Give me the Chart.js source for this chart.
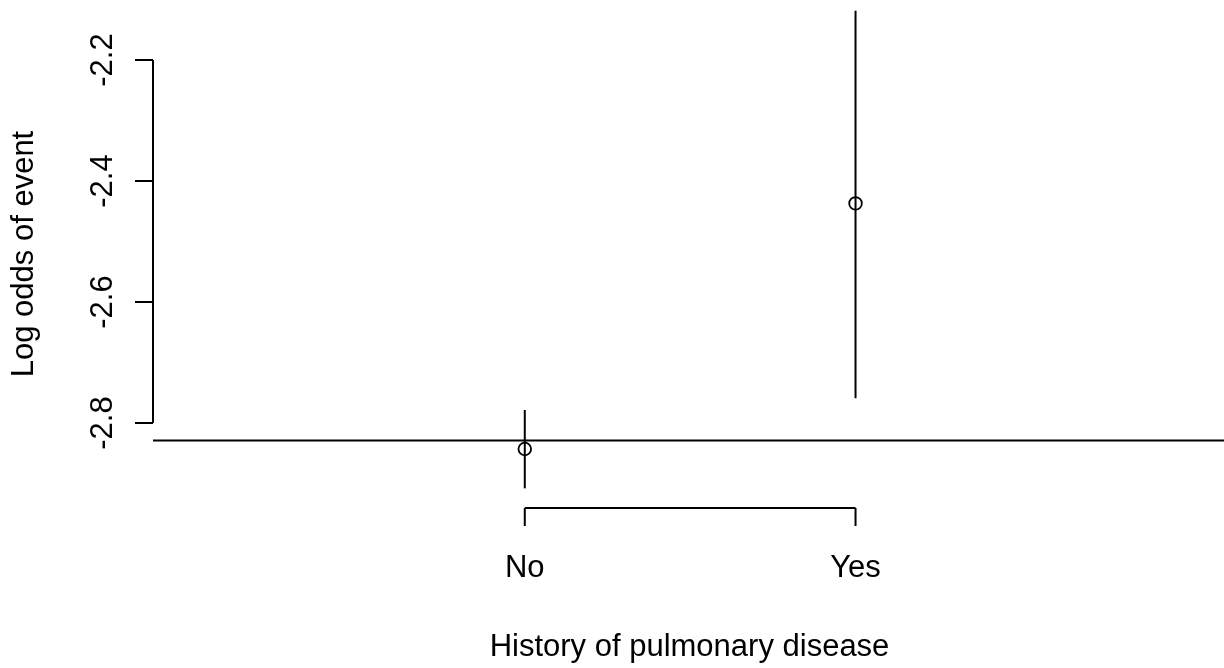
<!DOCTYPE html>
<html>
<head>
<meta charset="utf-8">
<title>Log odds of event by history of pulmonary disease</title>
<script src="https://cdn.jsdelivr.net/npm/chart.js@4.4.1/dist/chart.umd.min.js"></script>
<style>
    html, body { margin: 0; padding: 0; background: #ffffff; }
    canvas { display: block; }
</style>
</head>
<body>
<canvas id="chart" width="1224" height="668"></canvas>
<script>
(function () {
    'use strict';

    // values
    var categories = ['No', 'Yes'];
    var xPositions = [1, 2];
    var estimates = [-2.843, -2.437];
    var lowerBounds = [-2.908, -2.759];
    var upperBounds = [-2.7785, -2.1185];
    var referenceLevel = -2.829;
    var yTicks = [-2.8, -2.6, -2.4, -2.2];
    var yTickLabels = ['-2.8', '-2.6', '-2.4', '-2.2'];

    var X_MIN = -0.124;
    var X_MAX = 3.114;
    var Y_MIN = -2.9405;
    var Y_MAX = -2.1008;

    var FONT = '31px "Liberation Sans", Arial, sans-serif';
    var INK = '#000000';

    var datasets = [];

    // circles (pch = 1)
    datasets.push({
        type: 'scatter',
        label: 'estimate',
        order: 0,
        data: xPositions.map(function (x, i) { return { x: x, y: estimates[i] }; }),
        pointStyle: 'circle',
        pointRadius: 6.3,
        pointBorderWidth: 1.8,
        borderColor: INK,
        backgroundColor: 'rgba(0,0,0,0)',
        pointBackgroundColor: 'rgba(0,0,0,0)',
        pointBorderColor: INK
    });

    // vertical interval segments
    for (var i = 0; i < categories.length; i++) {
        datasets.push({
            type: 'line',
            label: categories[i] + ' interval',
            order: 1,
            data: [
                { x: xPositions[i], y: lowerBounds[i] },
                { x: xPositions[i], y: upperBounds[i] }
            ],
            borderColor: INK,
            borderWidth: 2,
            pointRadius: 0,
            fill: false,
            tension: 0
        });
    }

    // horizontal reference line across the plot region
    datasets.push({
        type: 'line',
        label: 'reference',
        order: 2,
        data: [{ x: X_MIN, y: referenceLevel }, { x: X_MAX, y: referenceLevel }],
        borderColor: INK,
        borderWidth: 2,
        pointRadius: 0,
        fill: false
    });

    // base-R style axes: line spans first to last tick only
    var rAxes = {
        id: 'rAxes',
        afterDraw: function (chart) {
            var ctx = chart.ctx;
            var area = chart.chartArea;
            var xs = chart.scales.x;
            var ys = chart.scales.y;
            var tickLen = 18;

            ctx.save();
            ctx.strokeStyle = INK;
            ctx.fillStyle = INK;
            ctx.lineWidth = 2;
            ctx.font = FONT;

            // y axis
            var ax = area.left;
            var yTop = ys.getPixelForValue(yTicks[yTicks.length - 1]);
            var yBot = ys.getPixelForValue(yTicks[0]);
            ctx.beginPath();
            ctx.moveTo(ax, yTop);
            ctx.lineTo(ax, yBot);
            for (var j = 0; j < yTicks.length; j++) {
                var py = ys.getPixelForValue(yTicks[j]);
                ctx.moveTo(ax, py);
                ctx.lineTo(ax - tickLen, py);
            }
            ctx.stroke();
            ctx.textAlign = 'center';
            ctx.textBaseline = 'alphabetic';
            for (var k = 0; k < yTicks.length; k++) {
                ctx.save();
                ctx.translate(ax - 41, ys.getPixelForValue(yTicks[k]));
                ctx.rotate(-Math.PI / 2);
                ctx.fillText(yTickLabels[k], 0, 0);
                ctx.restore();
            }

            // x axis
            var by = area.bottom;
            var x0 = xs.getPixelForValue(xPositions[0]);
            var x1 = xs.getPixelForValue(xPositions[xPositions.length - 1]);
            ctx.beginPath();
            ctx.moveTo(x0, by);
            ctx.lineTo(x1, by);
            for (var m = 0; m < xPositions.length; m++) {
                var px = xs.getPixelForValue(xPositions[m]);
                ctx.moveTo(px, by);
                ctx.lineTo(px, by + tickLen);
            }
            ctx.stroke();
            for (var n = 0; n < categories.length; n++) {
                ctx.fillText(categories[n], xs.getPixelForValue(xPositions[n]), by + 69);
            }

            // titles
            ctx.fillText('History of pulmonary disease', (area.left + area.right) / 2 + 1, by + 148);
            ctx.save();
            ctx.translate(area.left - 120, (area.top + area.bottom) / 2);
            ctx.rotate(-Math.PI / 2);
            ctx.fillText('Log odds of event', 0, 0);
            ctx.restore();

            ctx.restore();
        }
    };

    new Chart(document.getElementById('chart'), {
        type: 'scatter',
        data: { datasets: datasets },
        options: {
            responsive: false,
            animation: false,
            devicePixelRatio: 1,
            layout: {
                autoPadding: false,
                padding: { left: 153, right: 0, top: 0, bottom: 160 }
            },
            plugins: {
                legend: { display: false },
                tooltip: { enabled: false }
            },
            scales: {
                x: { type: 'linear', min: X_MIN, max: X_MAX, display: false },
                y: { type: 'linear', min: Y_MIN, max: Y_MAX, display: false }
            }
        },
        plugins: [rAxes]
    });
})();
</script>
</body>
</html>
